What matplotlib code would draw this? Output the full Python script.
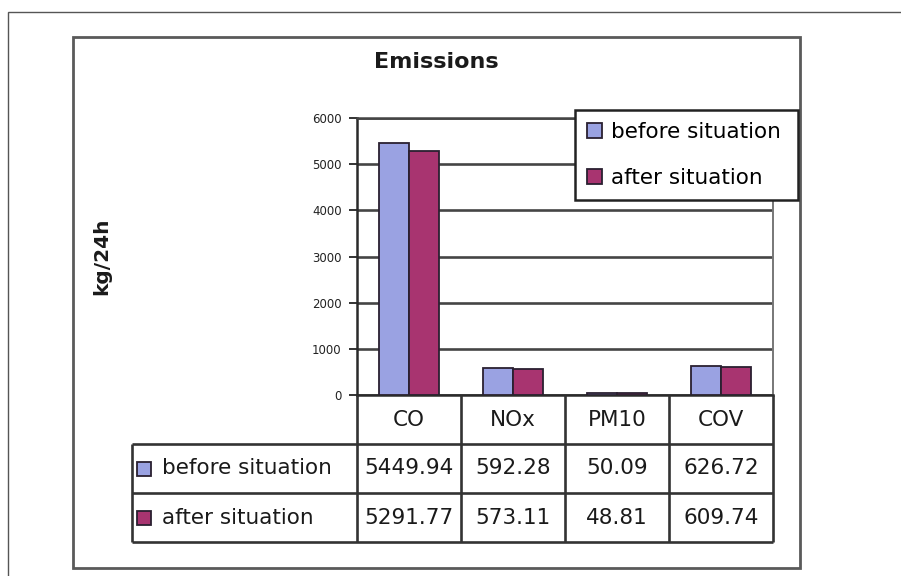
import matplotlib
matplotlib.use("Agg")
import matplotlib.pyplot as plt
from matplotlib.patches import Rectangle
import numpy as np

# ---- data ----
categories = ["CO", "NOx", "PM10", "COV"]
series_names = ["before situation", "after situation"]
before_vals = [5449.94, 592.28, 50.09, 626.72]
after_vals = [5291.77, 573.11, 48.81, 609.74]
yticks = [0, 1000, 2000, 3000, 4000, 5000, 6000]
title = "Emissions"
ylabel = "kg/24h"

# ---- style ----
c_before = "#9AA2E2"
c_after = "#A83470"
edge = "#2a2030"
grid_c = "#454545"
line_c = "#333333"

plt.rcParams["font.family"] = ["DejaVu Sans"]

W, H = 901, 576
fig = plt.figure(figsize=(W / 100, H / 100), dpi=100)
fig.patch.set_facecolor("white")

def fx(px):
    return px / W

def fy(py):
    return 1 - py / H

# outer border and chart frame
fig.patches.append(Rectangle((fx(8), fy(590)), (920 - 8) / W, (590 - 12) / H,
                             transform=fig.transFigure, fill=False,
                             edgecolor="#555555", linewidth=1.0))
fig.patches.append(Rectangle((fx(73), fy(568)), (800 - 73) / W, (568 - 37) / H,
                             transform=fig.transFigure, fill=False,
                             edgecolor="#5a5a5a", linewidth=2.0))

# main plot axes
ax = fig.add_axes([fx(357), fy(395), (773 - 357) / W, (395 - 118) / H])
x = np.arange(len(categories))
bw = 0.29
b1 = ax.bar(x - bw / 2, before_vals, bw, color=c_before, edgecolor=edge,
            linewidth=1.3, zorder=3, label=series_names[0])
b2 = ax.bar(x + bw / 2, after_vals, bw, color=c_after, edgecolor=edge,
            linewidth=1.3, zorder=3, label=series_names[1])
ax.set_xlim(-0.5, 3.5)
ax.set_ylim(0, 6000)
ax.set_yticks(yticks)
ax.set_yticklabels([str(v) for v in yticks], fontsize=8.5, color="#222222")
ax.set_xticks([])
ax.tick_params(axis="y", direction="out", length=6, width=1.4, pad=5,
               color="#333333")
ax.yaxis.grid(True, color=grid_c, linewidth=1.9, zorder=0)
ax.set_axisbelow(True)
for s in ["left", "bottom"]:
    ax.spines[s].set_color("#2a2a2a")
    ax.spines[s].set_linewidth(1.8)
ax.spines["top"].set_color(grid_c)
ax.spines["top"].set_linewidth(1.8)
ax.spines["right"].set_color("#777777")
ax.spines["right"].set_linewidth(1.4)
ax.set_facecolor("white")

# title and y-label
fig.text(fx(436), fy(62), title, ha="center", va="center",
         fontsize=16, fontweight="bold", color="#1a1a1a")
fig.text(fx(102), fy(256), ylabel, ha="center", va="center", rotation=90,
         fontsize=14.5, fontweight="bold", color="#1a1a1a")

# legend
leg = fig.legend(handles=[b1, b2], labels=series_names, loc="upper left",
                 bbox_to_anchor=(fx(575), fy(199), (798 - 575) / W, (199 - 110) / H),
                 mode="expand", fontsize=15.5, frameon=True, fancybox=False,
                 framealpha=1, edgecolor="#222222", borderpad=0.55,
                 labelspacing=1.23, handlelength=0.72, handleheight=0.68,
                 handletextpad=0.4, borderaxespad=0)
leg.get_frame().set_linewidth(1.8)

# data table
LABEL_W = (357 - 132) / ((773 - 357) / 4)
tax = fig.add_axes([fx(132), fy(542), (773 - 132) / W, (542 - 395) / H])
tax.set_xlim(-0.5 - LABEL_W, 3.5)
tax.set_ylim(3, 0)
tax.axis("off")
left = -0.5 - LABEL_W
lw_t = 1.9
# vertical lines at category boundaries
tax.vlines([i - 0.5 for i in range(len(categories) + 1)], 0, 3,
           colors=line_c, linewidth=lw_t, clip_on=False)
tax.vlines([left], 1, 3, colors=line_c, linewidth=lw_t, clip_on=False)
tax.hlines([1, 2, 3], left, 3.5, colors=line_c, linewidth=lw_t, clip_on=False)

fs_t = 15.5
for i, c in enumerate(categories):
    tax.text(i, 0.5, c, ha="center", va="center", fontsize=fs_t, color="#1a1a1a")
rows = [before_vals, after_vals]
colors = [c_before, c_after]
for r, (name, vals, col) in enumerate(zip(series_names, rows, colors)):
    yrow = r + 1.5
    for i, v in enumerate(vals):
        tax.text(i, yrow, f"{v:.2f}", ha="center", va="center",
                 fontsize=fs_t, color="#1a1a1a")
    tax.plot([left + 0.115], [yrow], marker="s", markersize=9.5,
             markerfacecolor=col, markeredgecolor=edge, markeredgewidth=1.3,
             clip_on=False)
    tax.text(left + 0.29, yrow, name, ha="left", va="center",
             fontsize=fs_t, color="#1a1a1a")

fig.savefig("out.png", dpi=100, facecolor="white")
